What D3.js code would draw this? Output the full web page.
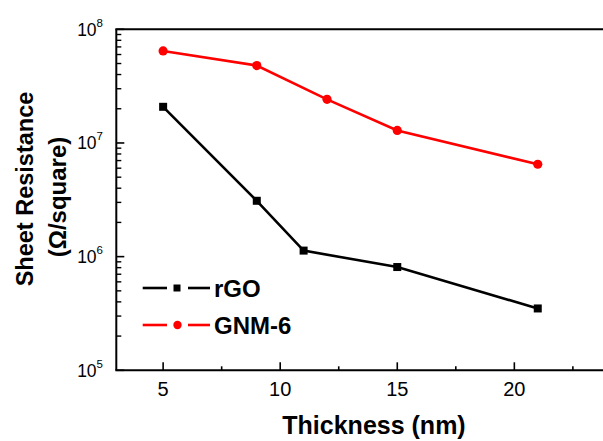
<!DOCTYPE html>
<html><head><meta charset="utf-8">
<script src="https://cdn.jsdelivr.net/npm/d3@7"></script>
<style>body{margin:0;background:#fff}svg{display:block}</style>
</head><body>
<script>
const thickness_rGO = [5, 9, 11, 15, 21];
const rGO = [2.08e7, 3.1e6, 1.13e6, 8.1e5, 3.5e5];
const thickness_GNM = [5, 9, 12, 15, 21];
const GNM6 = [6.45e7, 4.8e7, 2.42e7, 1.29e7, 6.5e6];
const xTicks = [5, 10, 15, 20];
const xMinor = [7.5, 12.5, 17.5, 22.5];
const yExps = [5, 6, 7, 8];
const seriesNames = ["rGO", "GNM-6"];

const W = 603, H = 441;
const svg = d3.select("body").append("svg").attr("width", W).attr("height", H);
svg.append("rect").attr("width", W).attr("height", H).attr("fill", "#fff");

const x = d3.scaleLinear().domain([3, 24]).range([116.3, 608]);
const y = d3.scaleLog().domain([1e5, 1e8]).range([370.3, 29.3]);

const font = "'Liberation Sans', Arial, sans-serif";

// axes frame
const g = svg.append("g");
g.append("line").attr("x1", x(3)).attr("x2", x(3)).attr("y1", y(1e8)).attr("y2", y(1e5))
  .attr("stroke", "#000").attr("stroke-width", 2);
g.append("line").attr("x1", x(3)-1).attr("x2", x(24)).attr("y1", y(1e5)).attr("y2", y(1e5))
  .attr("stroke", "#000").attr("stroke-width", 2);
g.append("line").attr("x1", x(3)-1).attr("x2", x(24)).attr("y1", y(1e8)).attr("y2", y(1e8))
  .attr("stroke", "#000").attr("stroke-width", 2);

// x ticks (inward)
xTicks.forEach(t => {
  g.append("line").attr("x1", x(t)).attr("x2", x(t)).attr("y1", y(1e5)).attr("y2", y(1e5)-8)
    .attr("stroke", "#000").attr("stroke-width", 1.6);
  g.append("text").attr("x", x(t)).attr("y", 396).attr("text-anchor", "middle")
    .attr("font-family", font).attr("font-size", 20).text(t);
});
xMinor.forEach(t => {
  g.append("line").attr("x1", x(t)).attr("x2", x(t)).attr("y1", y(1e5)).attr("y2", y(1e5)-4)
    .attr("stroke", "#000").attr("stroke-width", 1.6);
});

// y ticks (inward)
yExps.forEach(e => {
  const v = Math.pow(10, e);
  g.append("line").attr("x1", x(3)).attr("x2", x(3)+8).attr("y1", y(v)).attr("y2", y(v))
    .attr("stroke", "#000").attr("stroke-width", 1.6);
  const t = g.append("text").attr("x", 103).attr("y", y(v) + 6.5).attr("text-anchor", "end")
    .attr("font-family", font).attr("font-size", 17.5);
  t.append("tspan").text("10");
  t.append("tspan").attr("dy", -9).attr("font-size", 11.5).text(e);
  if (e < 8) {
    for (let m = 2; m <= 9; m++) {
      const mv = m * v;
      g.append("line").attr("x1", x(3)).attr("x2", x(3)+5).attr("y1", y(mv)).attr("y2", y(mv))
        .attr("stroke", "#000").attr("stroke-width", 1.4);
    }
  }
});

// axis titles
svg.append("text").attr("x", 374).attr("y", 434).attr("text-anchor", "middle")
  .attr("font-family", font).attr("font-weight", "bold").attr("font-size", 25)
  .text("Thickness (nm)");
svg.append("text").attr("transform", "translate(33,189) rotate(-90)").attr("text-anchor", "middle")
  .attr("font-family", font).attr("font-weight", "bold").attr("font-size", 23.5)
  .text("Sheet Resistance");
svg.append("text").attr("transform", "translate(66,197) rotate(-90)").attr("text-anchor", "middle")
  .attr("font-family", font).attr("font-weight", "bold").attr("font-size", 24)
  .text("(Ω/square)");

// data
const line = d3.line().x(d => x(d[0])).y(d => y(d[1]));
const rData = thickness_rGO.map((t, i) => [t, rGO[i]]);
const gData = thickness_GNM.map((t, i) => [t, GNM6[i]]);

svg.append("path").datum(gData).attr("d", line).attr("fill", "none")
  .attr("stroke", "#ff0000").attr("stroke-width", 2.6);
svg.append("path").datum(rData).attr("d", line).attr("fill", "none")
  .attr("stroke", "#000").attr("stroke-width", 2.6);

svg.selectAll(".sq").data(rData).enter().append("rect")
  .attr("x", d => x(d[0]) - 4).attr("y", d => y(d[1]) - 4).attr("width", 8).attr("height", 8)
  .attr("fill", "#000");
svg.selectAll(".ci").data(gData).enter().append("circle")
  .attr("cx", d => x(d[0])).attr("cy", d => y(d[1])).attr("r", 4.6)
  .attr("fill", "#ff0000");

// legend
const leg = [{name: seriesNames[0], color: "#000", shape: "sq", y: 288},
             {name: seriesNames[1], color: "#ff0000", shape: "ci", y: 325}];
leg.forEach(l => {
  svg.append("line").attr("x1", 142.7).attr("x2", 167).attr("y1", l.y).attr("y2", l.y)
    .attr("stroke", l.color).attr("stroke-width", 2.6);
  svg.append("line").attr("x1", 188).attr("x2", 210).attr("y1", l.y).attr("y2", l.y)
    .attr("stroke", l.color).attr("stroke-width", 2.6);
  if (l.shape === "sq") {
    svg.append("rect").attr("x", 173.5).attr("y", l.y - 3.5).attr("width", 7).attr("height", 7).attr("fill", l.color);
  } else {
    svg.append("circle").attr("cx", 177.5).attr("cy", l.y).attr("r", 4.2).attr("fill", l.color);
  }
  svg.append("text").attr("x", 214).attr("y", l.y + 9).attr("font-family", font)
    .attr("font-weight", "bold").attr("font-size", 24).text(l.name);
});
</script>
</body></html>
